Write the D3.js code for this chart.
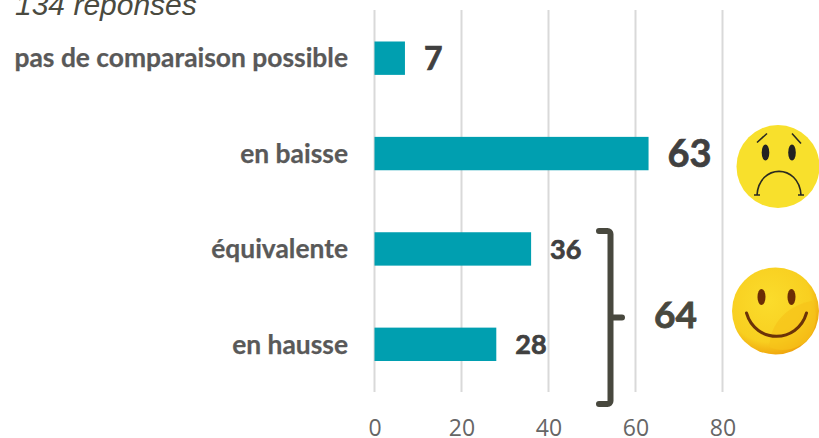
<!DOCTYPE html>
<html><head><meta charset="utf-8">
<script src="https://cdn.jsdelivr.net/npm/d3@7/dist/d3.min.js"></script>
<style>html,body{margin:0;padding:0;background:#fff}svg{display:block}</style></head>
<body><svg id="c" width="819" height="438"></svg>
<script>
const categories = ["pas de comparaison possible","en baisse","équivalente","en hausse"];
const values = [7,63,36,28];
const tickValues = [0,20,40,60,80];
const subtitle = "134 réponses";
const groupTotal = 64;
const labelSizes = [32,38,27,27];
const barColor = "#009fb0";

const svg = d3.select("#c");
const x = d3.scaleLinear().domain([0,80]).range([374.5,722.5]);
const y = d3.scaleBand().domain(categories).range([10.5,392]).paddingInner(0.65).paddingOuter(0.325);
const font = "Lato, Carlito, sans-serif";

// grid
svg.append("g").selectAll("line").data(tickValues).join("line")
  .attr("x1",d=>x(d)).attr("x2",d=>x(d)).attr("y1",10).attr("y2",392)
  .attr("stroke","#d9d9d9").attr("stroke-width",2);

// axis
const axis = d3.axisBottom(x).tickValues(tickValues).tickSize(0).tickPadding(0);
const ag = svg.append("g").attr("transform","translate(0,436)").call(axis);
ag.select(".domain").remove();
ag.selectAll("text").attr("font-family","'Open Sans',sans-serif").attr("font-size",23).attr("fill","#666666")
  .attr("y",0).attr("dy",0);

// bars
svg.append("g").selectAll("rect").data(values).join("rect")
  .attr("x",x(0)).attr("y",(d,i)=>y(categories[i]))
  .attr("width",d=>x(d)-x(0)).attr("height",y.bandwidth()).attr("fill",barColor);

// category labels
svg.append("g").selectAll("text").data(categories).join("text")
  .attr("x",348).attr("y",d=>y(d)+y.bandwidth()/2).attr("dy","0.35em")
  .attr("text-anchor","end").attr("font-family",font).attr("font-weight",700)
  .attr("font-size",26.4).attr("fill","#595959").attr("stroke","#595959").attr("stroke-width",0.25).text(d=>d);

// value labels
svg.append("g").selectAll("text").data(values).join("text")
  .attr("x",d=>x(d)+19).attr("y",(d,i)=>y(categories[i])+y.bandwidth()/2)
  .attr("dy","0.36em").attr("font-family",font).attr("font-weight",700)
  .attr("font-size",(d,i)=>labelSizes[i]).attr("fill","#404040").attr("stroke","#404040").attr("stroke-width",0.7).text(d=>d);

// subtitle
svg.append("text").attr("x",15).attr("y",15).attr("font-family","'Liberation Sans',Arial,sans-serif")
  .attr("font-style","italic").attr("font-size",30).attr("fill","#4a4a40").text(subtitle);

// bracket
svg.append("path").attr("d","M599 231 H607.5 a3 3 0 0 1 3 3 V401 a3 3 0 0 1 -3 3 H599 M610.5 317.5 H622")
  .attr("fill","none").attr("stroke","#48483e").attr("stroke-width",6).attr("stroke-linecap","round");
svg.append("text").attr("x",654).attr("y",328).attr("font-family",font).attr("font-weight",700)
  .attr("font-size",37).attr("fill","#48483e").attr("stroke","#48483e").attr("stroke-width",0.8).text(groupTotal);

// defs
const defs = svg.append("defs");
const g = defs.append("radialGradient").attr("id","happy").attr("cx","0.42").attr("cy","0.38").attr("r","0.68");
g.append("stop").attr("offset","0").attr("stop-color","#fbdc2c");
g.append("stop").attr("offset","0.7").attr("stop-color","#f8cf20");
g.append("stop").attr("offset","0.92").attr("stop-color","#f0a80e");
g.append("stop").attr("offset","1").attr("stop-color","#e8960a");

// sad face
const sad = svg.append("g").attr("transform","translate(778,166.5)");
sad.append("circle").attr("r",41.5).attr("fill","#f8e02c");
sad.append("ellipse").attr("cx",-12.5).attr("cy",-14).attr("rx",3.8).attr("ry",8).attr("fill","#222");
sad.append("ellipse").attr("cx",14).attr("cy",-14).attr("rx",3.8).attr("ry",8).attr("fill","#222");
sad.append("path").attr("d","M-21 28.5 C-19 -3,21 -3,23 28.5 M-24 28.5 H-18 M20 28.5 H26 M-21 -24 L-11 -33 M14 -33 L23 -23")
  .attr("fill","none").attr("stroke","#2a2a20").attr("stroke-width",1.6);

// happy face
const hap = svg.append("g").attr("transform","translate(775.5,311)");
hap.append("circle").attr("r",43.5).attr("fill","url(#happy)");
hap.append("path").attr("d","M-6 36 C-6 18,6 -4,36 -10 C43 0,42 20,30 31 C18 40,4 41,-6 36Z").attr("fill","#f6c31a").attr("opacity",0.7);
hap.append("ellipse").attr("cx",-14).attr("cy",-14).attr("rx",4).attr("ry",8).attr("fill","#6b2c05");
hap.append("ellipse").attr("cx",16).attr("cy",-14).attr("rx",4).attr("ry",8).attr("fill","#6b2c05");
hap.append("path").attr("d","M-29 2 C-20 33,22 33,31 2").attr("fill","none").attr("stroke","#6b3208").attr("stroke-width",3).attr("stroke-linecap","round");
</script></body></html>
